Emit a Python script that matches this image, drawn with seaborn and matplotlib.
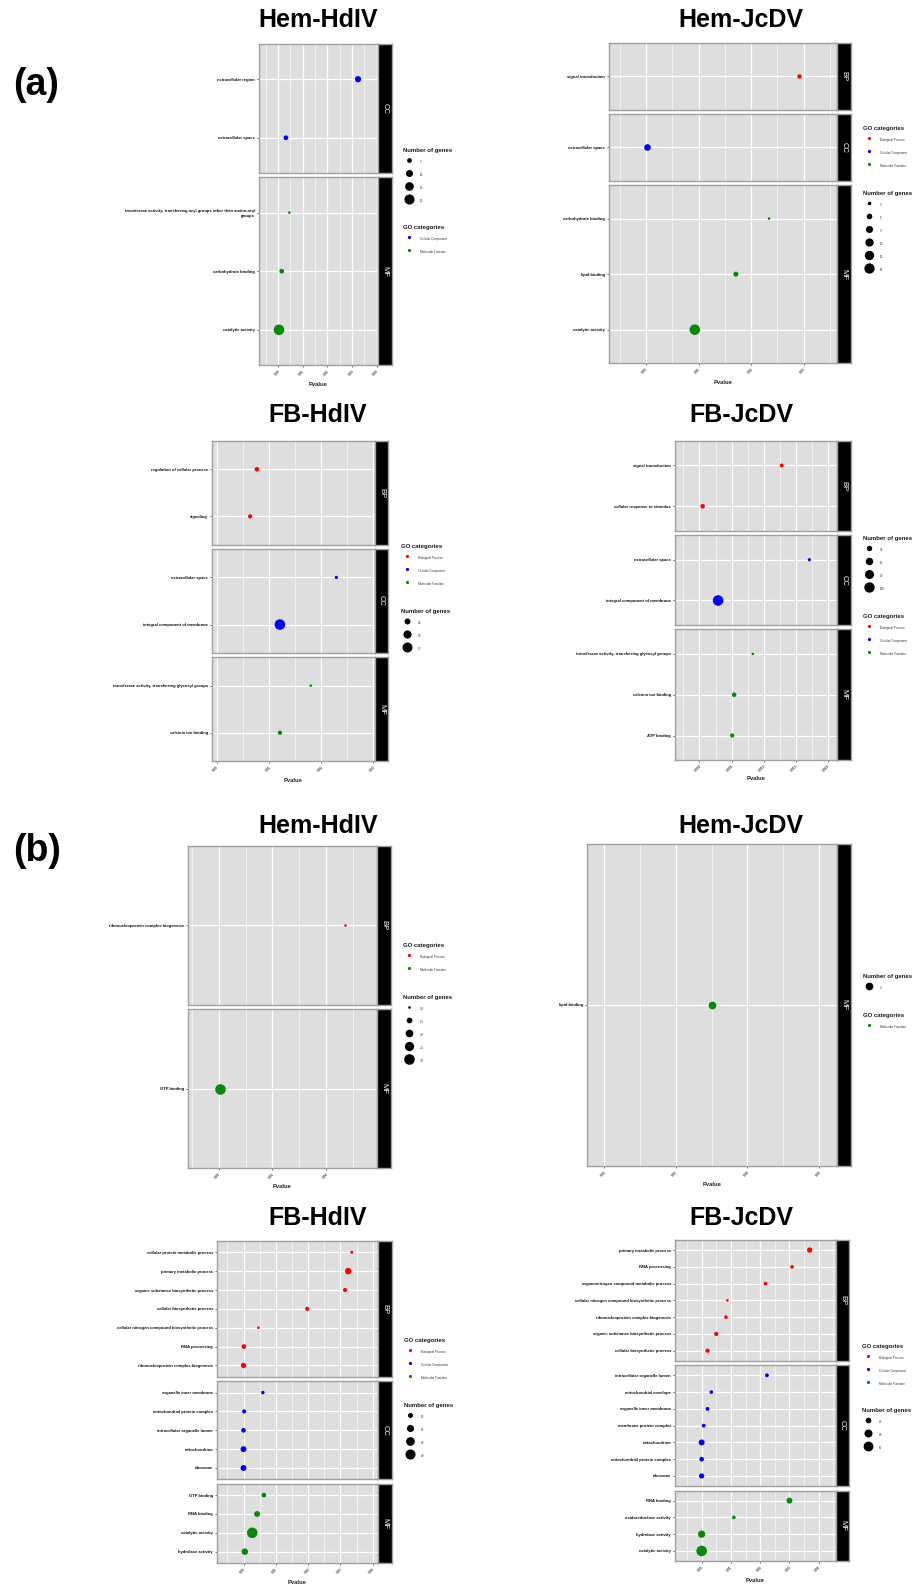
import numpy as np
import pandas as pd
import matplotlib
matplotlib.use("Agg")
import matplotlib.pyplot as plt
from matplotlib.lines import Line2D
import seaborn as sns

# ---- (a) Hem-HdIV
hem_hdiv_a_terms = ["extracellular region", "extracellular space",
                    "transferase activity, transferring acyl groups other than amino-acyl\ngroups",
                    "carbohydrate binding", "catalytic activity"]
hem_hdiv_a_cats = ["CC", "CC", "MF", "MF", "MF"]
hem_hdiv_a_pvals = [0.0324, 0.0032, 0.0046, 0.0015, 0.0004]
hem_hdiv_a_genes = [8, 5, 2, 5, 22]
hem_hdiv_a_xticks = ["0.00", "0.01", "0.02", "0.03", "0.04"]
hem_hdiv_a_sizebreaks = ["5", "10", "15", "20"]

# ---- (a) Hem-JcDV
hem_jcdv_a_terms = ["signal transduction", "extracellular space", "carbohydrate binding",
                    "lipid binding", "catalytic activity"]
hem_jcdv_a_cats = ["BP", "CC", "MF", "MF", "MF"]
hem_jcdv_a_pvals = [0.0291, 0.0003, 0.0234, 0.0171, 0.0093]
hem_jcdv_a_genes = [4, 8, 2, 5, 19]
hem_jcdv_a_xticks = ["0.00", "0.01", "0.02", "0.03"]
hem_jcdv_a_sizebreaks = ["3", "6", "9", "12", "15", "18"]

# ---- (a) FB-HdIV
fb_hdiv_a_terms = ["regulation of cellular process", "signaling", "extracellular space",
                   "integral component of membrane",
                   "transferase activity, transferring glycosyl groups", "calcium ion binding"]
fb_hdiv_a_cats = ["BP", "BP", "CC", "CC", "MF", "MF"]
fb_hdiv_a_pvals = [0.0077, 0.0064, 0.0229, 0.0121, 0.0180, 0.0121]
fb_hdiv_a_genes = [14, 12, 6, 85, 3, 12]
fb_hdiv_a_xticks = ["0.00", "0.01", "0.02", "0.03"]
fb_hdiv_a_sizebreaks = ["25", "50", "75"]

# ---- (a) FB-JcDV
fb_jcdv_a_terms = ["signal transduction", "cellular response to stimulus", "extracellular space",
                   "integral component of membrane",
                   "transferase activity, transferring glycosyl groups", "calcium ion binding",
                   "ATP binding"]
fb_jcdv_a_cats = ["BP", "BP", "CC", "CC", "MF", "MF", "MF"]
fb_jcdv_a_pvals = [0.0128, 0.0005, 0.0171, 0.0029, 0.0083, 0.0054, 0.0051]
fb_jcdv_a_genes = [14, 20, 8, 125, 4, 20, 17]
fb_jcdv_a_xticks = ["0.000", "0.005", "0.010", "0.015", "0.020"]
fb_jcdv_a_sizebreaks = ["30", "60", "90", "120"]

# ---- (b) Hem-HdIV
hem_hdiv_b_terms = ["ribonucleoprotein complex biogenesis", "GTP binding"]
hem_hdiv_b_cats = ["BP", "MF"]
hem_hdiv_b_pvals = [0.0471, 0.0005]
hem_hdiv_b_genes = [1, 3]
hem_hdiv_b_xticks = ["0.00", "0.02", "0.04"]
hem_hdiv_b_sizebreaks = ["1.0", "1.5", "2.0", "2.5", "3.0"]

# ---- (b) Hem-JcDV
hem_jcdv_b_terms = ["lipid binding"]
hem_jcdv_b_cats = ["MF"]
hem_jcdv_b_pvals = [0.0350]
hem_jcdv_b_genes = [2]
hem_jcdv_b_xticks = ["0.02", "0.03", "0.04", "0.05"]
hem_jcdv_b_sizebreaks = ["2"]

# ---- (b) FB-HdIV
fb_hdiv_b_terms = ["cellular protein metabolic process", "primary metabolic process",
                   "organic substance biosynthetic process", "cellular biosynthetic process",
                   "cellular nitrogen compound biosynthetic process", "RNA processing",
                   "ribonucleoprotein complex biogenesis", "organelle inner membrane",
                   "mitochondrial protein complex", "intracellular organelle lumen",
                   "mitochondrion", "ribosome", "GTP binding", "RNA binding",
                   "catalytic activity", "hydrolase activity"]
fb_hdiv_b_cats = ["BP"] * 7 + ["CC"] * 5 + ["MF"] * 4
fb_hdiv_b_pvals = [0.0335, 0.0324, 0.0314, 0.0197, 0.0046, 0.0001, 0.0000, 0.0060,
                   0.0002, 0.0000, 0.0000, 0.0000, 0.0063, 0.0042, 0.0027, 0.0004]
fb_hdiv_b_genes = [4, 17, 7, 7, 3, 9, 11, 5, 7, 9, 14, 14, 9, 14, 44, 17]
fb_hdiv_b_xticks = ["0.00", "0.01", "0.02", "0.03", "0.04"]
fb_hdiv_b_sizebreaks = ["10", "20", "30", "40"]

# ---- (b) FB-JcDV
fb_jcdv_b_terms = ["primary metabolic process", "RNA processing",
                   "organonitrogen compound metabolic process",
                   "cellular nitrogen compound biosynthetic process",
                   "ribonucleoprotein complex biogenesis", "organic substance biosynthetic process",
                   "cellular biosynthetic process", "intracellular organelle lumen",
                   "mitochondrial envelope", "organelle inner membrane", "membrane protein complex",
                   "mitochondrion", "mitochondrial protein complex", "ribosome", "RNA binding",
                   "oxidoreductase activity", "hydrolase activity", "catalytic activity"]
fb_jcdv_b_cats = ["BP"] * 7 + ["CC"] * 7 + ["MF"] * 4
fb_jcdv_b_pvals = [0.0369, 0.0309, 0.0218, 0.0088, 0.0083, 0.0050, 0.0020, 0.0223, 0.0033,
                   0.0020, 0.0007, 0.0000, 0.0000, 0.0000, 0.0300, 0.0110, 0.0000, 0.0000]
fb_jcdv_b_genes = [17, 8, 8, 4, 8, 11, 11, 9, 8, 9, 9, 22, 13, 17, 22, 8, 33, 70]
fb_jcdv_b_xticks = ["0.00", "0.01", "0.02", "0.03", "0.04"]
fb_jcdv_b_sizebreaks = ["20", "40", "60"]

GO_NAMES = {"BP": "Biological Process", "CC": "Cellular Component", "MF": "Molecular Function"}
COLORS = {"Biological Process": "#FF0000", "Cellular Component": "#0000FF",
          "Molecular Function": "#0B870B"}

sns.set_style("white")
plt.rcParams["font.family"] = ["Liberation Sans", "DejaVu Sans"]
plt.rcParams["text.color"] = "black"

W, H = 916, 1586
fig = plt.figure(figsize=(W / 100, H / 100), dpi=100)
S_MIN, S_MAX = 3.5, 58
GAP = 4.5


def px_axes(x0, y0, x1, y1):
    return fig.add_axes([x0 / W, 1 - y1 / H, (x1 - x0) / W, (y1 - y0) / H])


def add_legend(handles, labels, title, x, y):
    leg = fig.legend(handles, labels, title=title, loc="upper left",
                     bbox_to_anchor=(x / W, 1 - (y - 4) / H), frameon=False, fontsize=2.2,
                     title_fontproperties={"weight": "bold", "size": 4.3},
                     borderpad=0, borderaxespad=0, handlelength=3.9, handleheight=3.95,
                     handletextpad=1.6, labelspacing=1.45, alignment="left")
    leg.get_title().set_color("#1A1A1A")
    for t in leg.get_texts():
        t.set_color("#333333")


def draw_panel(title, terms, cats, pvals, genes, xticks, sizebreaks, lay):
    df = pd.DataFrame({"term": terms, "cat": cats, "pvalue": pvals, "genes": genes})
    df["GO"] = df["cat"].map(GO_NAMES)
    lo, hi = df["genes"].min(), df["genes"].max()

    def area(v):
        if hi == lo:
            return (S_MIN + S_MAX) / 2
        return S_MIN + (v - lo) / (hi - lo) * (S_MAX - S_MIN)

    size_map = {v: area(v) for v in df["genes"].unique()}
    facets = [c for c in ["BP", "CC", "MF"] if c in set(df["cat"])]
    ns = [int((df["cat"] == c).sum()) for c in facets]
    total = lay["bot"] - lay["top"] - GAP * (len(facets) - 1)
    unit = total / sum(n + 0.2 for n in ns)

    xt = [float(t) for t in xticks]
    step = xt[1] - xt[0] if len(xt) > 1 else 0.01
    minor = [v + step / 2 for v in [xt[0] - step] + xt]
    minor = [v for v in minor if lay["xlim"][0] < v < lay["xlim"][1]]

    y = lay["top"]
    for i, (c, n) in enumerate(zip(facets, ns)):
        h = unit * (n + 0.2)
        ax = px_axes(lay["x0"], y, lay["x1"], y + h)
        sub = df[df["cat"] == c]
        sns.scatterplot(data=sub, x="pvalue", y="term", hue="GO", palette=COLORS,
                        size="genes", sizes=size_map, linewidth=0, legend=False,
                        ax=ax, zorder=3)
        ax.set_facecolor("#DEDEDE")
        ax.set_xlim(lay["xlim"])
        ax.set_ylim(n - 0.4, -0.6)
        ax.set_xticks(xt)
        ax.set_xticks(minor, minor=True)
        ax.grid(which="major", color="white", lw=0.9)
        ax.grid(which="minor", axis="x", color="white", lw=0.45)
        ax.set_axisbelow(True)
        ax.set_yticks(range(n))
        ax.set_yticklabels(list(sub["term"]), fontsize=3, fontweight="bold", color="#111111")
        ax.tick_params(axis="y", length=1.6, width=0.5, color="#333333", pad=1.2, left=True)
        ax.tick_params(axis="x", which="minor", length=0)
        ax.set_xlabel("")
        ax.set_ylabel("")
        if i == len(facets) - 1:
            ax.set_xticklabels(xticks, fontsize=2.4, fontweight="bold", color="#4D4D4D",
                               rotation=45, ha="right", rotation_mode="anchor")
            ax.tick_params(axis="x", length=1.6, width=0.5, color="#333333", pad=1.2,
                           bottom=True)
        else:
            ax.tick_params(axis="x", length=0, labelbottom=False)
        for s in ax.spines.values():
            s.set_color("#A0A0A0")
            s.set_linewidth(1.0)

        sax = px_axes(lay["x1"], y, lay["sx"], y + h)
        sax.set_facecolor("black")
        sax.set_xticks([])
        sax.set_yticks([])
        for s in sax.spines.values():
            s.set_color("#A0A0A0")
            s.set_linewidth(1.0)
        sax.text(0.5, 0.5, c, rotation=270, color="white", fontsize=5.5,
                 ha="center", va="center", transform=sax.transAxes)
        y += h + GAP

    fig.text((lay["x0"] + lay["x1"]) / 2 / W, 1 - (lay["bot"] + 19) / H, "Pvalue",
             fontsize=4.2, fontweight="bold", ha="center", va="center", color="#222222")
    fig.text(lay["tx"] / W, 1 - lay["ty"] / H, title, fontsize=18, fontweight="bold",
             ha="center", va="center", color="black")

    go_present = [GO_NAMES[c] for c in facets]
    go_handles = [Line2D([], [], marker="o", ls="", color=COLORS[g], markersize=2.3,
                         markeredgewidth=0) for g in go_present]
    size_handles = [Line2D([], [], marker="o", ls="", color="black",
                           markersize=np.sqrt(area(float(b))), markeredgewidth=0)
                    for b in sizebreaks]
    add_legend(go_handles, go_present, "GO categories", lay["lx"], lay["go_y"])
    add_legend(size_handles, sizebreaks, "Number of genes", lay["lx"], lay["size_y"])


panels = [
    ("Hem-HdIV", hem_hdiv_a_terms, hem_hdiv_a_cats, hem_hdiv_a_pvals, hem_hdiv_a_genes,
     hem_hdiv_a_xticks, hem_hdiv_a_sizebreaks,
     dict(x0=259, x1=378, sx=392, top=44, bot=365, xlim=(-0.0077, 0.0405),
          tx=318, ty=20, lx=403, go_y=229, size_y=152)),
    ("Hem-JcDV", hem_jcdv_a_terms, hem_jcdv_a_cats, hem_jcdv_a_pvals, hem_jcdv_a_genes,
     hem_jcdv_a_xticks, hem_jcdv_a_sizebreaks,
     dict(x0=609, x1=837, sx=851, top=43, bot=363, xlim=(-0.0070, 0.0363),
          tx=741, ty=20, lx=863, go_y=130, size_y=195)),
    ("FB-HdIV", fb_hdiv_a_terms, fb_hdiv_a_cats, fb_hdiv_a_pvals, fb_hdiv_a_genes,
     fb_hdiv_a_xticks, fb_hdiv_a_sizebreaks,
     dict(x0=212, x1=375, sx=388, top=441, bot=761, xlim=(-0.0009, 0.0303),
          tx=318, ty=415, lx=401, go_y=548, size_y=613)),
    ("FB-JcDV", fb_jcdv_a_terms, fb_jcdv_a_cats, fb_jcdv_a_pvals, fb_jcdv_a_genes,
     fb_jcdv_a_xticks, fb_jcdv_a_sizebreaks,
     dict(x0=675, x1=837, sx=851, top=441, bot=760, xlim=(-0.0038, 0.0214),
          tx=741, ty=415, lx=863, go_y=618, size_y=540)),
    ("Hem-HdIV", hem_hdiv_b_terms, hem_hdiv_b_cats, hem_hdiv_b_pvals, hem_hdiv_b_genes,
     hem_hdiv_b_xticks, hem_hdiv_b_sizebreaks,
     dict(x0=188, x1=377, sx=391, top=846, bot=1168, xlim=(-0.0114, 0.0589),
          tx=318, ty=826, lx=403, go_y=947, size_y=999)),
    ("Hem-JcDV", hem_jcdv_b_terms, hem_jcdv_b_cats, hem_jcdv_b_pvals, hem_jcdv_b_genes,
     hem_jcdv_b_xticks, hem_jcdv_b_sizebreaks,
     dict(x0=587, x1=837, sx=851, top=844, bot=1166, xlim=(0.0176, 0.0525),
          tx=741, ty=826, lx=863, go_y=1017, size_y=978)),
    ("FB-HdIV", fb_hdiv_b_terms, fb_hdiv_b_cats, fb_hdiv_b_pvals, fb_hdiv_b_genes,
     fb_hdiv_b_xticks, fb_hdiv_b_sizebreaks,
     dict(x0=217, x1=378, sx=392, top=1241, bot=1563, xlim=(-0.0082, 0.0416),
          tx=318, ty=1218, lx=404, go_y=1342, size_y=1407)),
    ("FB-JcDV", fb_jcdv_b_terms, fb_jcdv_b_cats, fb_jcdv_b_pvals, fb_jcdv_b_genes,
     fb_jcdv_b_xticks, fb_jcdv_b_sizebreaks,
     dict(x0=675, x1=836, sx=849, top=1240, bot=1561, xlim=(-0.0091, 0.0459),
          tx=741, ty=1218, lx=862, go_y=1348, size_y=1412)),
]

for p in panels:
    draw_panel(*p)

fig.text(13 / W, 1 - 85 / H, "(a)", fontsize=27, fontweight="bold", ha="left", va="center",
         color="black")
fig.text(13 / W, 1 - 851 / H, "(b)", fontsize=27, fontweight="bold", ha="left", va="center",
         color="black")

fig.savefig("out.png", dpi=100)
